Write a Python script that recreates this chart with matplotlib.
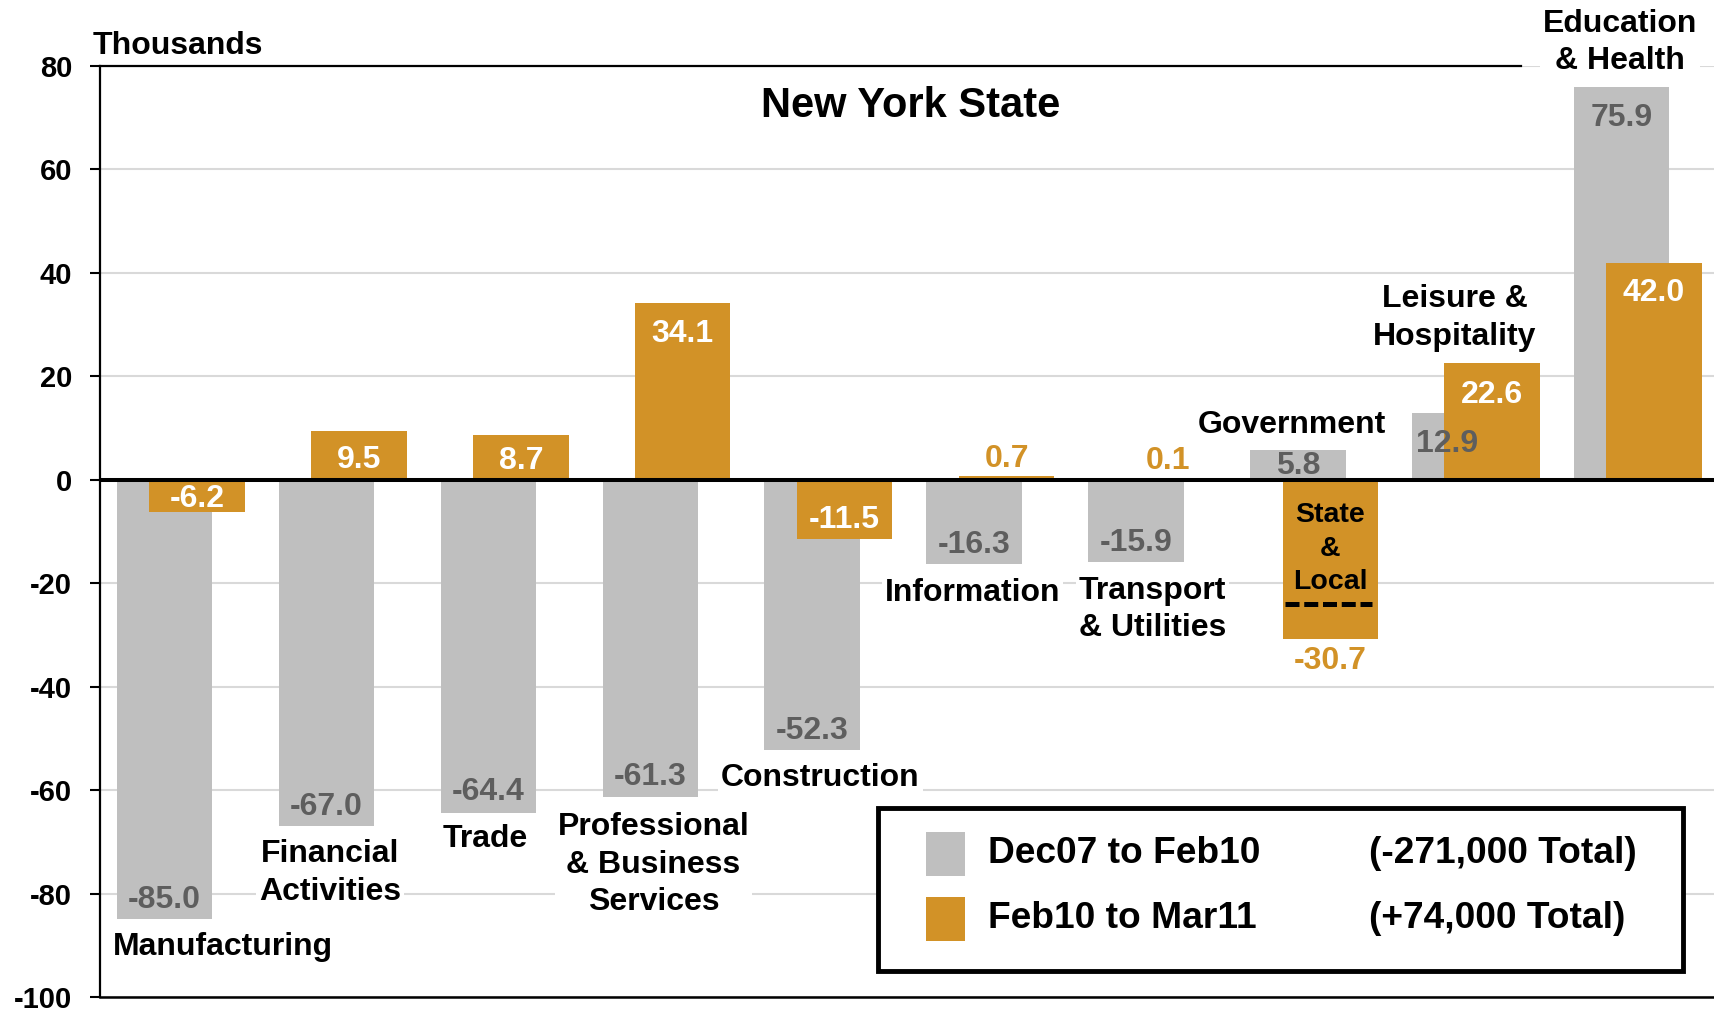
import numpy as np
import matplotlib
matplotlib.use("Agg")
import matplotlib.pyplot as plt
from matplotlib.patches import Rectangle

# ==========================================
# Дані
# ==========================================
sectors = ['Manufacturing', 'Financial\nActivities', 'Trade',
           'Professional\n& Business\nServices', 'Construction', 'Information',
           'Transport\n& Utilities', 'Government', 'Leisure &\nHospitality',
           'Education\n& Health']
dec07_feb10 = [-85.0, -67.0, -64.4, -61.3, -52.3, -16.3, -15.9, 5.8, 12.9, 75.9]
feb10_mar11 = [-6.2, 9.5, 8.7, 34.1, -11.5, 0.7, 0.1, -30.7, 22.6, 42.0]
series_names = ['Dec07 to Feb10', 'Feb10 to Mar11']
series_totals = ['(-271,000 Total)', '(+74,000 Total)']
sub_label = 'State\n&\nLocal'
y_ticks = [-100, -80, -60, -40, -20, 0, 20, 40, 60, 80]

# ==========================================
# Розмітка / стилі
# ==========================================
GREY = '#BFBFBF'
ORANGE = '#D29227'
GREY_TXT = '#5E5E5E'

# позиції підписів секторів (x в одиницях груп, y в тисячах)
sector_pos = [(0.26, -90.4), (0.92, -76.0), (1.88, -69.5), (2.92, -74.4),
              (3.95, -57.7), (4.89, -21.8), (6.0, -25.1), (6.86, 10.6),
              (7.87, 31.3), (8.89, 84.6)]
# зсуви підписів значень (у пунктах)
grey_dy = [14, 14, 15, 14, 14, 14, 14, -12, -22, -22]
grey_dx = [0, 0, 0, 0, 0, 0, 0, 0, -9, 0]
orange_dy = [9.6, -21, -19, -22, 14, 12.6, 13.4, -16.5, -23, -22]
orange_inside = [True, True, True, True, True, False, False, False, True, True]

plt.rcParams['font.family'] = ['Liberation Sans', 'DejaVu Sans']
plt.rcParams['font.weight'] = 'bold'

fig = plt.figure(figsize=(17.14, 10.13), dpi=100)
ax = fig.add_axes([0.0583, 0.0158, 0.9417, 0.919])

x = np.arange(len(sectors))
w = 0.59
off = 0.1

ax.bar(x - off, dec07_feb10, width=w, color=GREY, zorder=2)
ax.bar(x + off, feb10_mar11, width=w, color=ORANGE, zorder=2.2)

ax.axhline(0, color='black', lw=2.9, zorder=4)

for i, v in enumerate(dec07_feb10):
    ax.annotate(f'{v:.1f}', xy=(x[i] - off, v), xytext=(grey_dx[i], grey_dy[i]),
                textcoords='offset points', ha='center', va='center',
                fontsize=23, color=GREY_TXT, zorder=5)

for i, v in enumerate(feb10_mar11):
    c = 'white' if orange_inside[i] else ORANGE
    ax.annotate(f'{v:.1f}', xy=(x[i] + off, v), xytext=(0, orange_dy[i]),
                textcoords='offset points', ha='center', va='center',
                fontsize=23, color=c, zorder=5)

for name, (px, py) in zip(sectors, sector_pos):
    ax.text(px, py, name, ha='center', va='center', fontsize=23, zorder=3,
            linespacing=1.32,
            bbox=dict(facecolor='white', edgecolor='none', pad=2))

# State & Local всередині помаранчевого стовпця
gi = 7
ax.text(x[gi] + off, -13.3, sub_label, ha='center', va='center', fontsize=20.5,
        linespacing=1.38, zorder=5)
ax.plot([x[gi] + off - 0.28, x[gi] + off + 0.26], [-24.0, -24.0], color='black',
        lw=3.6, dashes=(2.8, 0.95), solid_capstyle='butt', zorder=5)

ax.set_xlim(-0.5, 9.47)
ax.set_ylim(-100, 80)
ax.set_xticks([])
ax.set_yticks(y_ticks)
ax.set_yticklabels([str(t) for t in y_ticks], fontsize=21, fontweight='bold')
ax.tick_params(axis='y', length=7, width=1.5, pad=13, color='black')
ax.yaxis.grid(True, color='#D9D9D9', lw=1.5)
ax.set_axisbelow(True)

ax.spines['right'].set_visible(False)
ax.spines['left'].set_linewidth(1.6)
ax.spines['bottom'].set_linewidth(1.8)
ax.spines['top'].set_linewidth(1.6)
ax.spines['top'].set_bounds(-0.5, 8.28)

ax.text(0.502, 0.957, 'New York State', transform=ax.transAxes,
        ha='center', va='center', fontsize=30)
fig.text(0.054, 0.955, 'Thousands', ha='left', va='center', fontsize=23)

# Легенда
ax.add_patch(Rectangle((0.482, 0.028), 0.499, 0.175, transform=ax.transAxes,
                       facecolor='white', edgecolor='black', lw=3.5, zorder=6))
for k, (name, tot, col) in enumerate(zip(series_names, series_totals, [GREY, ORANGE])):
    yc = 0.154 - k * 0.070
    ax.add_patch(Rectangle((0.512, yc - 0.024), 0.024, 0.047, transform=ax.transAxes,
                           facecolor=col, edgecolor='none', zorder=7))
    ax.text(0.550, yc, name, transform=ax.transAxes, ha='left', va='center',
            fontsize=26.7, zorder=7)
    ax.text(0.786, yc, tot, transform=ax.transAxes, ha='left', va='center',
            fontsize=26.7, zorder=7)

fig.savefig('out.png', dpi=100)
